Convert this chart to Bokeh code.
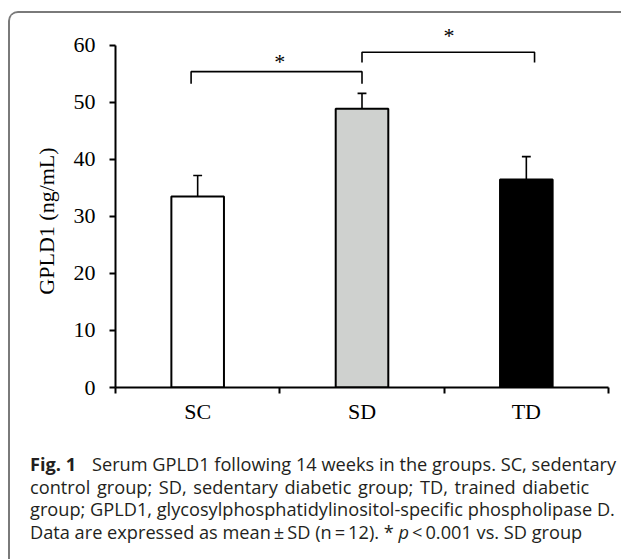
from bokeh.plotting import figure
from bokeh.models import Range1d, FixedTicker, ColumnDataSource, Div
from bokeh.layouts import column
from bokeh.core.properties import value
from bokeh.embed import file_html
from bokeh.resources import INLINE

# ---- data ----
groups = ["SC", "SD", "TD"]
means = [33.5, 48.9, 36.5]
sds = [3.7, 2.7, 4.0]
bar_colors = ["#ffffff", "#cfd1cf", "#000000"]
y_ticks = [0, 10, 20, 30, 40, 50, 60]

# significance brackets (category index units / value units)
br_x0 = [0.46, 1.5]
br_x1 = [1.5, 2.55]
br_top = [55.4, 58.8]
br_end = [53.3, 57.0]
star_x = [1.0, 2.03]
star_y = [57.1, 61.8]
stars = ["*", "*"]

caption_lines = [
    "Serum GPLD1 following 14 weeks in the groups. SC, sedentary",
    "control group; SD, sedentary diabetic group; TD, trained diabetic",
    "group; GPLD1, glycosylphosphatidylinositol-specific phospholipase D.",
]

SERIF = "Liberation Serif"
W, H = 611, 430

xc = [i + 0.5 for i in range(len(groups))]

p = figure(width=W, height=H, output_backend="svg", toolbar_location=None,
           x_range=Range1d(0, 3), y_range=Range1d(0, 64.2),
           min_border_left=105, min_border_right=13, min_border_top=8,
           min_border_bottom=56)
p.outline_line_color = None
p.grid.visible = False
p.background_fill_color = "white"
p.border_fill_color = "white"

src = ColumnDataSource(dict(x=xc, top=means, color=bar_colors,
                            err=[m + s for m, s in zip(means, sds)]))
p.vbar(x="x", top="top", bottom=0, width=0.32, fill_color="color",
       line_color="black", line_width=2, source=src)
p.segment(x0="x", y0="top", x1="x", y1="err", line_color="black", line_width=1.6, source=src)
cap = 0.027
p.segment(x0=[x - cap for x in xc], y0=src.data["err"], x1=[x + cap for x in xc],
          y1=src.data["err"], line_color="black", line_width=1.6)

for a, b, t, e in zip(br_x0, br_x1, br_top, br_end):
    p.line(x=[a, a, b, b], y=[e, t, t, e], line_color="black", line_width=1.6)
p.text(x=star_x, y=star_y, text=stars, text_font=value(SERIF), text_font_size="22px",
       text_align="center", text_baseline="alphabetic", text_color="black")

ya = p.yaxis[0]
ya.ticker = FixedTicker(ticks=y_ticks)
ya.bounds = (0, 60)
ya.axis_line_width = 2
ya.major_tick_line_width = 2
ya.major_tick_in = 0
ya.major_tick_out = 6
ya.minor_tick_line_color = None
ya.major_label_standoff = 14
ya.major_label_text_font = SERIF
ya.major_label_text_font_size = "22px"
ya.major_label_text_color = "black"
ya.axis_label = "GPLD1 (ng/mL)\u2002\u2002\u2002"
ya.axis_label_text_font = SERIF
ya.axis_label_text_font_size = "22px"
ya.axis_label_text_font_style = "normal"
ya.axis_label_text_color = "black"
ya.axis_label_standoff = 12

xa = p.xaxis[0]
xa.ticker = FixedTicker(ticks=xc, minor_ticks=[0, 1, 2, 3])
xa.major_label_overrides = {x: g for x, g in zip(xc, groups)}
xa.axis_line_width = 2
xa.major_tick_in = 0
xa.major_tick_out = 0
xa.minor_tick_in = 0
xa.minor_tick_out = 6
xa.minor_tick_line_width = 2
xa.minor_tick_line_color = "black"
xa.major_label_standoff = 5
xa.major_label_text_font = SERIF
xa.major_label_text_font_size = "22px"
xa.major_label_text_color = "black"

line_style = "height:22.5px;line-height:22.5px;white-space:nowrap;"
html = (
    '<div style="font-family:\'Open Sans\';font-size:18.2px;color:#231f20;'
    'padding-left:15px;padding-top:5px;">'
    f'<div style="{line_style}"><b style="display:inline-block;width:62px;">Fig. 1</b>'
    f'{caption_lines[0]}</div>'
    f'<div style="{line_style}word-spacing:1.9px;">{caption_lines[1]}</div>'
    f'<div style="{line_style}">{caption_lines[2]}</div>'
    f'<div style="{line_style}">Data are expressed as mean\u2009\u00b1\u2009SD (n\u2009=\u200912). '
    '* <i>p</i>\u2009&lt;\u20090.001 vs. SD group</div>'
    '</div>'
)
cap_div = Div(text=html, width=W, height=116)

layout = column(p, cap_div, spacing=0,
                styles={"border-top": "2px solid #7a7a7a", "border-left": "2px solid #7a7a7a",
                        "border-top-left-radius": "10px", "overflow": "hidden",
                        "margin-left": "8px", "margin-top": "11px",
                        "background-color": "white"})

open("out.html", "w").write(file_html(layout, INLINE))
